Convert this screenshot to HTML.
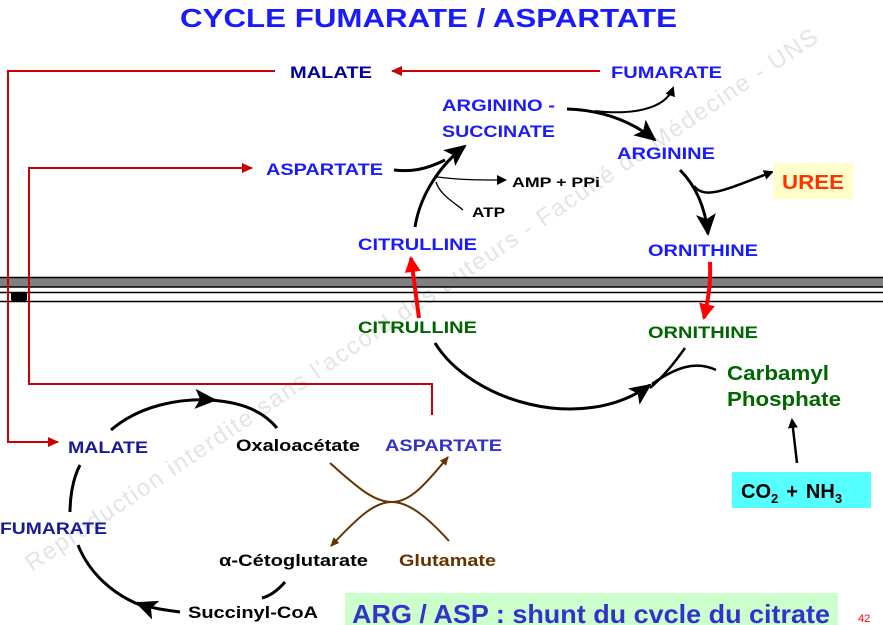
<!DOCTYPE html>
<html><head><meta charset="utf-8"><style>
html,body{margin:0;padding:0;background:#fff;}
svg{display:block;font-family:"Liberation Sans",Arial,sans-serif;font-weight:bold;}
</style></head><body>
<svg width="883" height="625" viewBox="0 0 883 625" xmlns="http://www.w3.org/2000/svg">
<defs>
<marker id="ab" markerWidth="10" markerHeight="10" refX="8" refY="5" orient="auto" markerUnits="userSpaceOnUse"><path d="M0,0 L10,5 L0,10 z" fill="#000"/></marker>
<marker id="abig" markerWidth="22" markerHeight="20" refX="20" refY="10" orient="auto" markerUnits="userSpaceOnUse"><path d="M0,0 L22,10 L0,20 L5,10 z" fill="#000"/></marker>
<marker id="ar" markerWidth="12" markerHeight="12" refX="10" refY="6" orient="auto" markerUnits="userSpaceOnUse"><path d="M0,1 L11,6 L0,11 z" fill="#cc0000"/></marker>
<marker id="arr" markerWidth="16" markerHeight="16" refX="14" refY="8" orient="auto" markerUnits="userSpaceOnUse"><path d="M0,0 L16,8 L0,16 z" fill="#ff0000"/></marker>
<marker id="abr" markerWidth="10" markerHeight="10" refX="8" refY="5" orient="auto" markerUnits="userSpaceOnUse"><path d="M0,1 L9,5 L0,9 z" fill="#663300"/></marker>
</defs>

<!-- watermark -->
<text x="32" y="572" transform="rotate(-34 32 572)" font-size="24" font-weight="normal" fill="#e4e4e4" textLength="950" lengthAdjust="spacing">Reproduction  interdite  sans  l'accord  des  auteurs  -  Faculté  de  Médecine  -  UNS</text>

<!-- title -->
<text x="180" y="27" font-size="26" fill="#1a1aff" textLength="497" lengthAdjust="spacingAndGlyphs">CYCLE FUMARATE / ASPARTATE</text>

<!-- membrane -->
<rect x="0" y="277" width="883" height="10" fill="#808080"/>
<line x1="0" y1="277.5" x2="883" y2="277.5" stroke="#000" stroke-width="1.5"/>
<line x1="0" y1="287" x2="883" y2="287" stroke="#000" stroke-width="1.5"/>
<line x1="0" y1="292.5" x2="883" y2="292.5" stroke="#000" stroke-width="1.5"/>
<line x1="0" y1="301.5" x2="883" y2="301.5" stroke="#000" stroke-width="1.5"/>
<rect x="11" y="292" width="16" height="9" rx="2" fill="#000"/>

<!-- red connectors -->
<g stroke="#cc0000" stroke-width="2" fill="none">
<polyline points="275,71 8,71 8,442 58,442" marker-end="url(#ar)"/>
<line x1="600" y1="71" x2="392" y2="71" marker-end="url(#ar)"/>
<polyline points="432,415 432,384 29,384 29,168 252,168" marker-end="url(#ar)"/>
</g>

<!-- urea cycle arrows -->
<g stroke="#000" fill="none" stroke-width="3">
<path d="M415,227 C420,195 440,165 465,146" marker-end="url(#abig)"/>
<path d="M394,170 C410,172 425,170 445,160"/>
<path d="M567,109 C600,110 630,120 655,140" marker-end="url(#abig)"/>
<path d="M595,111 C630,115 665,110 673,88" stroke-width="2" marker-end="url(#ab)"/>
<path d="M680,170 C695,185 705,205 708,234" marker-end="url(#abig)"/>
<path d="M694,186 C705,200 725,190 772,172" stroke-width="2.5" marker-end="url(#ab)"/>
<path d="M435,343 C470,400 580,435 650,385" marker-end="url(#abig)"/>
<path d="M685,348 C675,362 665,375 650,388" stroke-width="2.5"/>
<path d="M716,370 C695,360 675,368 652,384" stroke-width="2.5"/>
<path d="M797,463 L792,420" stroke-width="2.5" marker-end="url(#ab)"/>
</g>
<g stroke="#000" fill="none" stroke-width="1.3">
<path d="M437,177 C460,180 480,180 505,180" marker-end="url(#ab)"/>
<path d="M436,182 C440,195 455,203 463,210"/>
</g>
<!-- red membrane arrows -->
<g stroke="#ff0000" stroke-width="4" fill="none">
<path d="M419,318 L411,258" marker-end="url(#arr)"/>
<path d="M710,262 C711,285 708,300 704,318" marker-end="url(#arr)"/>
</g>

<!-- TCA cycle -->
<g stroke="#000" fill="none" stroke-width="3">
<path d="M111,430 C140,405 180,398 215,400" marker-end="url(#abig)"/>
<path d="M210,400 C240,402 262,410 277,428"/>
<path d="M80,465 C72,480 70,500 70,512"/>
<path d="M78,545 C90,575 115,595 140,605" />
<path d="M180,612 C165,610 150,608 137,603" marker-end="url(#abig)"/>
<path d="M285,582 C278,590 270,596 262,598"/>
</g>
<g stroke="#663300" fill="none" stroke-width="2">
<path d="M330,463 C360,490 375,502 392,502 C410,502 425,485 448,457" marker-end="url(#abr)"/>
<path d="M449,541 C430,520 410,502 392,502 C375,502 360,515 331,546" marker-end="url(#abr)"/>
</g>

<!-- boxes -->
<rect x="773" y="163" width="80" height="36" fill="#ffffcc"/>
<rect x="732" y="472" width="139" height="36" fill="#55ffff"/>
<rect x="345" y="593" width="493" height="32" fill="#ccffcc"/>

<!-- labels -->
<g font-size="17">
<text x="290" y="78" fill="#000099" textLength="82" lengthAdjust="spacingAndGlyphs">MALATE</text>
<text x="611" y="78" fill="#1a1aff" textLength="111" lengthAdjust="spacingAndGlyphs">FUMARATE</text>
<text x="442" y="111" fill="#1a1aff" textLength="113" lengthAdjust="spacingAndGlyphs">ARGININO -</text>
<text x="442" y="137" fill="#1a1aff" textLength="113" lengthAdjust="spacingAndGlyphs">SUCCINATE</text>
<text x="617" y="159" fill="#1a1aff" textLength="98" lengthAdjust="spacingAndGlyphs">ARGININE</text>
<text x="266" y="175" fill="#1a1aff" textLength="117" lengthAdjust="spacingAndGlyphs">ASPARTATE</text>
<text x="358" y="250" fill="#1a1aff" textLength="119" lengthAdjust="spacingAndGlyphs">CITRULLINE</text>
<text x="648" y="256" fill="#1a1aff" textLength="110" lengthAdjust="spacingAndGlyphs">ORNITHINE</text>
<text x="358" y="333" fill="#006600" textLength="119" lengthAdjust="spacingAndGlyphs">CITRULLINE</text>
<text x="648" y="338" fill="#006600" textLength="110" lengthAdjust="spacingAndGlyphs">ORNITHINE</text>
<text x="68" y="453" fill="#1a1a99" textLength="80" lengthAdjust="spacingAndGlyphs">MALATE</text>
<text x="236" y="451" fill="#000" textLength="124" lengthAdjust="spacingAndGlyphs">Oxaloacétate</text>
<text x="385" y="451" fill="#3333cc" textLength="117" lengthAdjust="spacingAndGlyphs">ASPARTATE</text>
<text x="0" y="534" fill="#1a1a99" textLength="107" lengthAdjust="spacingAndGlyphs">FUMARATE</text>
<text x="219" y="566" fill="#000" textLength="149" lengthAdjust="spacingAndGlyphs">α-Cétoglutarate</text>
<text x="399" y="566" fill="#663300" textLength="97" lengthAdjust="spacingAndGlyphs">Glutamate</text>
<text x="188" y="618" fill="#000" textLength="130" lengthAdjust="spacingAndGlyphs">Succinyl-CoA</text>
</g>
<text x="512" y="187" font-size="14" fill="#000" textLength="88" lengthAdjust="spacingAndGlyphs">AMP + PPi</text>
<text x="472" y="217" font-size="14" fill="#000" textLength="33" lengthAdjust="spacingAndGlyphs">ATP</text>
<text x="782" y="189" font-size="20" fill="#ff3300" textLength="62" lengthAdjust="spacingAndGlyphs">UREE</text>
<text x="727" y="380" font-size="20" fill="#006600" textLength="102" lengthAdjust="spacingAndGlyphs">Carbamyl</text>
<text x="727" y="406" font-size="20" fill="#006600" textLength="114" lengthAdjust="spacingAndGlyphs">Phosphate</text>
<text x="741" y="498" font-size="20" fill="#000">CO<tspan font-size="13" dy="5">2</tspan><tspan dy="-5" dx="8">+</tspan><tspan dx="8">NH</tspan><tspan font-size="13" dy="5">3</tspan></text>
<text x="352" y="623" font-size="26" fill="#3333cc" textLength="478" lengthAdjust="spacingAndGlyphs">ARG / ASP : shunt du cvcle du citrate</text>
<text x="858" y="622" font-size="11" font-weight="normal" fill="#ff0000">42</text>
</svg>
</body></html>
